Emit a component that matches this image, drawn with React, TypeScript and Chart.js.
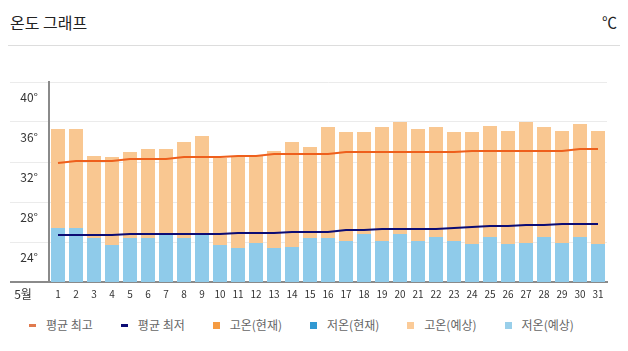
import React, { useEffect, useRef } from 'react';
import { Chart, registerables } from 'chart.js';

Chart.register(...registerables);

const FONT = '"Noto Sans CJK KR", "Noto Sans", sans-serif';

const days = ['1','2','3','4','5','6','7','8','9','10','11','12','13','14','15','16','17','18','19','20','21','22','23','24','25','26','27','28','29','30','31'];
const monthLabel = '5월';
const yTicks = [20, 24, 28, 32, 36, 40];

const avgHigh = [31.9,32.1,32.1,32.1,32.3,32.3,32.3,32.5,32.5,32.5,32.6,32.6,32.8,32.8,32.8,32.8,33.0,33.0,33.0,33.0,33.0,33.0,33.0,33.1,33.1,33.1,33.1,33.1,33.1,33.3,33.3];
const avgLow = [24.7,24.7,24.7,24.7,24.8,24.8,24.8,24.8,24.8,24.8,24.9,24.9,24.9,25.0,25.0,25.0,25.2,25.2,25.3,25.3,25.3,25.3,25.4,25.5,25.6,25.6,25.7,25.7,25.8,25.8,25.8];
const highForecast = [35.3,35.3,32.6,32.5,33.0,33.3,33.3,34.0,34.6,32.4,32.5,32.6,33.1,34.0,33.5,35.5,35.0,35.0,35.5,36.0,35.3,35.5,35.0,35.0,35.6,35.1,36.0,35.5,35.1,35.8,35.1];
const lowForecast = [25.4,25.4,24.4,23.7,24.4,24.4,24.8,24.4,24.8,23.7,23.4,23.9,23.4,23.5,24.4,24.4,24.1,24.8,24.1,24.8,24.1,24.5,24.1,23.8,24.5,23.8,23.9,24.5,23.9,24.5,23.8];
const highCurrent: number[] = [];
const lowCurrent: number[] = [];

const seriesNames = ['평균 최고', '평균 최저', '고온(현재)', '저온(현재)', '고온(예상)', '저온(예상)'];
const seriesColors = ['#ee5f1c', '#0c0c74', '#f59b42', '#3199d2', '#f9c791', '#8fcbea'];
const legendColors = ['#e07a4e', '#0c0c74', '#f59b42', '#3199d2', '#fbcb98', '#99cfea'];

const monthLabelPlugin = {
  id: 'monthLabel',
  afterDraw(chart: any) {
    const { ctx, chartArea } = chart;
    ctx.save();
    ctx.font = `12px ${FONT}`;
    ctx.fillStyle = '#333';
    ctx.textAlign = 'center';
    ctx.textBaseline = 'middle';
    ctx.fillText(monthLabel, 23, chartArea.bottom + 12);
    ctx.restore();
  },
};

function TempChart() {
  const ref = useRef<HTMLCanvasElement>(null);
  useEffect(() => {
    if (!ref.current) return;
    const chart = new Chart(ref.current, {
      type: 'bar',
      data: {
        labels: days,
        datasets: [
          { type: 'line', label: seriesNames[0], data: avgHigh, borderColor: seriesColors[0], backgroundColor: seriesColors[0], borderWidth: 2, pointRadius: 0, tension: 0, order: 0 } as any,
          { type: 'line', label: seriesNames[1], data: avgLow, borderColor: seriesColors[1], backgroundColor: seriesColors[1], borderWidth: 2, pointRadius: 0, tension: 0, order: 0 } as any,
          { type: 'bar', label: seriesNames[2], data: highCurrent, backgroundColor: seriesColors[2], order: 2 },
          { type: 'bar', label: seriesNames[3], data: lowCurrent, backgroundColor: seriesColors[3], order: 1 },
          { type: 'bar', label: seriesNames[4], data: highForecast, backgroundColor: seriesColors[4], order: 2 },
          { type: 'bar', label: seriesNames[5], data: lowForecast, backgroundColor: seriesColors[5], order: 1 },
        ],
      },
      options: {
        responsive: false,
        animation: false,
        events: [],
        layout: { padding: { left: 10, right: 21, top: 22, bottom: 0 } },
        datasets: { bar: { grouped: false, barPercentage: 14 / 18, categoryPercentage: 1, borderWidth: 0 } } as any,
        plugins: { legend: { display: false }, tooltip: { enabled: false } },
        scales: {
          x: {
            grid: { display: false, drawTicks: false },
            border: { display: true, color: '#8a8a8a', width: 2 },
            ticks: { autoSkip: false, maxRotation: 0, minRotation: 0, padding: 6, color: '#333', font: { family: FONT, size: 10 } },
            afterFit: (axis: any) => { axis.height = 28; },
          },
          y: {
            min: 20,
            max: 40,
            grid: {
              color: (c: any) => (c.tick && c.tick.value === 20 ? '#8a8a8a' : '#ebebeb'),
              lineWidth: (c: any) => (c.tick && c.tick.value === 20 ? 2 : 1),
              tickLength: 39,
            },
            border: { display: true, color: '#8a8a8a', width: 2 },
            afterBuildTicks: (axis: any) => { axis.ticks = yTicks.map((v) => ({ value: v })); },
            ticks: {
              padding: -28,
              labelOffset: 15,
              color: '#333',
              font: { family: FONT, size: 12 },
              callback: (v: any) => (Number(v) === 20 ? '' : `${v}°`),
            },
            afterFit: (axis: any) => { axis.width = 39; },
          },
        },
      },
      plugins: [monthLabelPlugin],
    });
    return () => chart.destroy();
  }, []);
  return <canvas ref={ref} width={628} height={250} style={{ position: 'absolute', left: 0, top: 60, width: 628, height: 250 }} />;
}

export default function App() {
  return (
    <div style={{ position: 'relative', margin: -8, width: 628, height: 351, background: '#fff', fontFamily: FONT, overflow: 'hidden' }}>
      <div style={{ position: 'absolute', left: 10, top: 13, fontSize: 16, lineHeight: '18px', color: '#222' }}>온도 그래프</div>
      <div style={{ position: 'absolute', right: 11, top: 13, fontSize: 15, lineHeight: '18px', color: '#222' }}>℃</div>
      <div style={{ position: 'absolute', left: 0, top: 45, width: 628, height: 1, background: '#dddddd' }} />
      <TempChart />
      <div style={{ position: 'absolute', left: 29, top: 317, display: 'flex', alignItems: 'center', fontSize: 12, lineHeight: '16px', color: '#666', whiteSpace: 'nowrap' }}>
        {seriesNames.map((name, i) => (
          <div key={name} style={{ display: 'flex', alignItems: 'center', marginRight: 28 }}>
            <span style={{ display: 'inline-block', width: 7, height: i < 2 ? 3 : 7, background: legendColors[i], marginRight: 10 }} />
            <span>{name}</span>
          </div>
        ))}
      </div>
    </div>
  );
}
